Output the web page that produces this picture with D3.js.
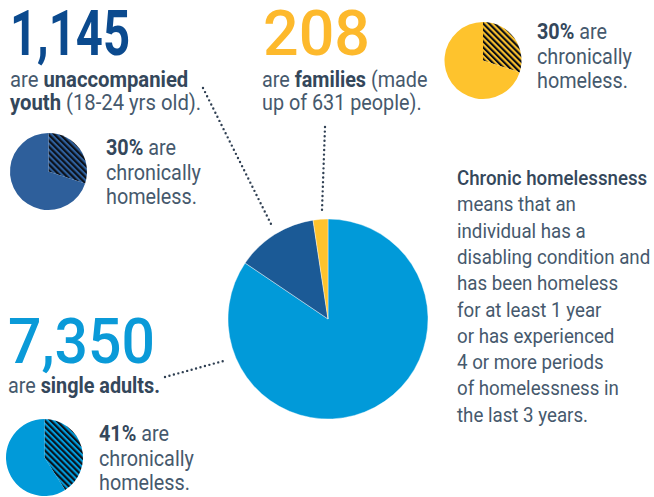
<!DOCTYPE html>
<html>
<head>
<meta charset="utf-8">
<script src="https://cdn.jsdelivr.net/npm/d3@7"></script>
<style>
    body { margin: 0; background: #fff; }
    svg { display: block; font-family: Roboto, sans-serif; }
</style>
</head>
<body>
<svg id="chart" width="654" height="497"></svg>
<script>
// homeless counts by group
const groups = ["single adults", "unaccompanied youth", "families"];
const counts = [7350, 1145, 208];
const countLabels = ["7,350", "1,145", "208"];
const chronicPct = [41, 30, 30];
const definitionLines = [
    "Chronic homelessness",
    "means that an",
    "individual has a",
    "disabling condition and",
    "has been homeless",
    "for at least 1 year",
    "or has experienced",
    "4 or more periods",
    "of homelessness in",
    "the last 3 years."
];

const textColor = "#46596d";
const boldColor = "#34475b";

const svg = d3.select("#chart");

const color = d3.scaleOrdinal()
    .domain(groups)
    .range(["#019ad9", "#1b5a96", "#fec32d"]);
const smallColor = d3.scaleOrdinal()
    .domain(groups)
    .range(["#019ad9", "#2e5f9b", "#fec32d"]);
const numberColor = d3.scaleOrdinal()
    .domain(groups)
    .range(["#0a9ad8", "#0b4a8e", "#fdb92c"]);

// stripe pattern for the chronic slice
const defs = svg.append("defs");
groups.forEach((g, i) => {
    const p = defs.append("pattern")
        .attr("id", "hatch" + i)
        .attr("patternUnits", "userSpaceOnUse")
        .attr("width", 4.2)
        .attr("height", 4.2)
        .attr("patternTransform", "rotate(-45)");
    p.append("rect").attr("width", 4.2).attr("height", 4.2).attr("fill", smallColor(g));
    p.append("rect").attr("width", 2.1).attr("height", 4.2).attr("fill", "#0b0f16");
});

// main pie
const pie = d3.pie().sort(null).value(d => d.count);
const mainData = groups.map((g, i) => ({ group: g, count: counts[i] }));
const arc = d3.arc().innerRadius(0).outerRadius(100);

svg.append("g")
    .attr("transform", "translate(328,319)")
    .selectAll("path")
    .data(pie(mainData))
    .join("path")
    .attr("d", arc)
    .attr("fill", d => color(d.data.group))
    .attr("stroke", "#fff")
    .attr("stroke-width", 0.4);

// leader lines
const leaders = [
    [[165, 377], [227, 360]],
    [[203, 88], [272, 226]],
    [[325, 127], [322, 210]]
];
svg.append("g")
    .selectAll("line")
    .data(leaders)
    .join("line")
    .attr("x1", d => d[0][0]).attr("y1", d => d[0][1])
    .attr("x2", d => d[1][0]).attr("y2", d => d[1][1])
    .attr("stroke", "#2f3f52")
    .attr("stroke-width", 2.4)
    .attr("stroke-linecap", "round")
    .attr("stroke-dasharray", "0 4.6");

// small pies
const smallPos = [[44.5, 457.5], [48.5, 171.5], [483, 60.5]];
const smallArc = d3.arc().innerRadius(0).outerRadius(38.5);
groups.forEach((g, i) => {
    const sp = d3.pie().sort(null)([chronicPct[i], 100 - chronicPct[i]]);
    svg.append("g")
        .attr("transform", `translate(${smallPos[i][0]},${smallPos[i][1]})`)
        .selectAll("path")
        .data(sp)
        .join("path")
        .attr("d", smallArc)
        .attr("fill", (d, j) => j === 0 ? `url(#hatch${i})` : smallColor(g));
});

// big numbers
const numPos = [[8, 363, 147, 500], [10, 55, 120, 700], [263, 55, 107, 500]];
groups.forEach((g, i) => {
    svg.append("text")
        .attr("x", numPos[i][0])
        .attr("y", numPos[i][1])
        .attr("font-size", 63)
        .attr("font-weight", numPos[i][3])
        .attr("fill", numberColor(g))
        .attr("textLength", numPos[i][2])
        .attr("lengthAdjust", "spacingAndGlyphs")
        .text(countLabels[i]);
});

// text squeezed a bit to look like the condensed face of the original
function richLine(x, y, parts, size) {
    const t = svg.append("text")
        .attr("transform", `translate(${x},${y}) scale(0.9,1)`)
        .attr("font-size", size)
        .attr("fill", textColor);
    parts.forEach(p => {
        t.append("tspan")
            .attr("font-weight", p[1] ? 700 : 400)
            .attr("fill", p[1] ? boldColor : textColor)
            .text(p[0]);
    });
    return t;
}

// group captions
richLine(10, 87, [["are ", false], ["unaccompanied", true]], 22.5);
richLine(10, 110, [["youth", true], [" (18-24 yrs old).", false]], 22.5);
richLine(262, 87, [["are ", false], ["families", true], [" (made", false]], 22);
richLine(262, 110, [["up of 631 people).", false]], 22);
richLine(8, 393, [["are ", false], ["single adults.", true]], 22);

// chronic captions
const capPos = [[99, 441], [106, 155], [537, 39]];
groups.forEach((g, i) => {
    richLine(capPos[i][0], capPos[i][1], [[chronicPct[i] + "%", true], [" are", false]], 22);
    richLine(capPos[i][0], capPos[i][1] + 24.5, [["chronically", false]], 22);
    richLine(capPos[i][0], capPos[i][1] + 49, [["homeless.", false]], 22);
});

// definition block
definitionLines.forEach((line, i) => {
    richLine(457, 185 + i * 26.3, [[line, i === 0]], 20.8)
        .select("tspan")
        .attr("font-weight", i === 0 ? 500 : 400);
});
</script>
</body>
</html>
